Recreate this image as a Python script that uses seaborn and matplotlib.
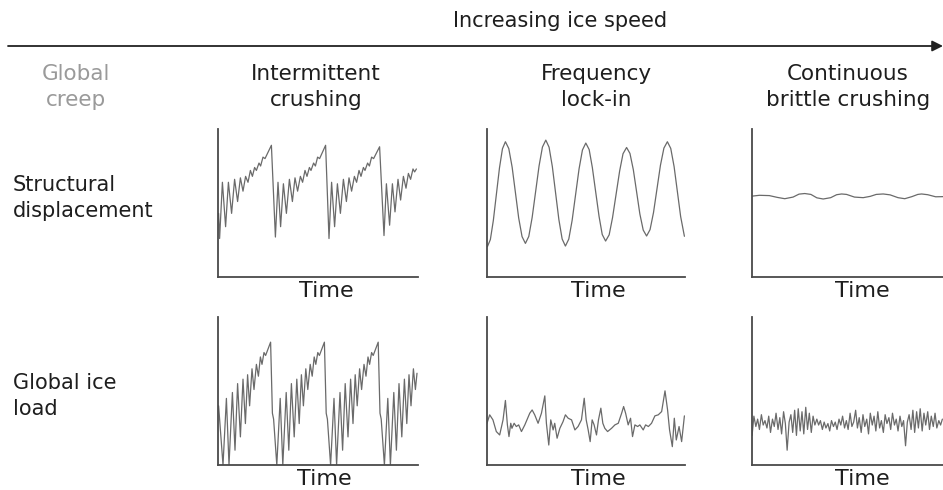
import numpy as np
import pandas as pd
import matplotlib
matplotlib.use("Agg")
import matplotlib.pyplot as plt
import seaborn as sns

sns.set_theme(style="white")
plt.rcParams['font.family'] = ['DejaVu Sans']

# ---------------- text ----------------
title = "Increasing ice speed"
regimes = ["Global\ncreep", "Intermittent\ncrushing", "Frequency\nlock-in", "Continuous\nbrittle crushing"]
rows = ["Structural\ndisplacement", "Global ice\nload"]
xlabel = "Time"

# ---------------- data (time 0-100, amplitude 0-100) ----------------
# Structural displacement - intermittent crushing
t_disp_ic = [0.3, 0.8, 2.2, 3.8, 5.2, 6.8, 8.3, 9.8, 11.2, 12.5, 13.8, 15.0, 16.2, 17.2, 18.3, 19.2, 20.5, 21.3, 22.5, 23.5, 26.7, 28.7,
             30.0, 31.3, 32.7, 34.2, 35.7, 37.2, 38.5, 39.8, 41.2, 42.3, 43.5, 44.5, 45.7, 46.5, 47.8, 48.7, 49.8, 50.8, 53.8, 55.5,
             56.8, 58.3, 59.7, 61.2, 62.7, 64.2, 65.5, 66.8, 68.2, 69.3, 70.5, 71.5, 72.7, 73.5, 74.8, 75.7, 76.8, 77.8, 80.8, 83.0,
             84.2, 85.8, 87.2, 88.5, 90.0, 91.3, 92.7, 94.0, 95.2, 96.3, 97.5, 98.3, 99.2]
v_disp_ic = [43, 26, 64, 34, 64, 43, 66, 51, 67, 58, 68, 64, 72, 68, 74, 72, 77, 75, 81, 80, 89, 27,
             64, 34, 63, 43, 66, 51, 67, 58, 68, 64, 72, 68, 74, 72, 77, 75, 81, 80, 89, 26,
             64, 34, 63, 43, 66, 51, 67, 58, 68, 64, 72, 68, 74, 72, 77, 75, 81, 80, 88, 28,
             63, 35, 63, 44, 66, 52, 68, 60, 70, 66, 73, 71, 73]

# Structural displacement - frequency lock-in
t_disp_fl = [0.2, 1.7, 3.2, 4.75, 6.3, 7.8, 9.3,
             11.0, 12.7, 14.35, 16.0, 17.7, 19.4,
             21.1, 22.8, 24.55, 26.3, 28.0, 29.7,
             31.35, 33.0, 34.65, 36.3, 37.95, 39.6,
             41.3, 43.0, 44.75, 46.5, 48.2, 49.9,
             51.6, 53.2, 54.9, 56.6, 58.2, 59.9,
             61.7, 63.4, 65.2, 67.0, 68.7, 70.5,
             72.2, 73.9, 75.55, 77.2, 78.9, 80.6,
             82.35, 84.1, 85.85, 87.6, 89.35, 91.1,
             92.8, 94.5, 96.15, 97.8, 99.7]
v_disp_fl = [20.5, 25.3, 38.2, 56.0, 73.7, 86.6, 91.4,
             86.8, 74.2, 57.1, 39.9, 27.3, 22.7,
             27.4, 40.2, 57.6, 75.1, 87.8, 92.5,
             87.7, 74.6, 56.7, 38.8, 25.7, 20.9,
             25.6, 38.3, 55.7, 73.1, 85.8, 90.5,
             86.1, 74.0, 57.4, 40.9, 28.7, 24.3,
             28.5, 40.1, 55.9, 71.7, 83.3, 87.5,
             83.5, 72.5, 57.6, 42.6, 31.7, 27.7,
             32.0, 43.6, 59.55, 75.5, 87.1, 91.4,
             86.9, 74.55, 57.7, 40.85, 27.5]

# Structural displacement - continuous brittle crushing
t_disp_cb = [0, 4, 9, 13, 16.8, 21, 24, 26.9, 30, 33, 36.2, 40, 43, 45.5, 48, 52, 56.4, 60, 63, 66.5,
             70, 74, 77.4, 81, 84, 85.9, 89, 93, 96.6, 100]
v_disp_cb = [54.6, 55.2, 55.0, 53.8, 52.9, 54.0, 56.0, 56.4, 55.8, 53.5, 52.7, 53.6, 55.6, 56.1, 55.8, 54.0, 53.6, 54.5, 55.8, 56.1,
             55.5, 53.6, 52.9, 54.3, 55.8, 56.1, 55.6, 54.2, 54.3, 54.8]

# Global ice load - intermittent crushing
t_load_ic = [0.3, 0.8, 2.5, 4.2, 5.5, 7.2, 8.5, 9.8, 11.2, 12.5, 13.7, 14.8, 15.8, 17.0, 18.0, 19.2, 20.2, 21.2, 22.0, 23.0, 23.8, 26.3, 27.2,
             27.8, 29.4, 31.1, 32.4, 34.1, 35.4, 36.7, 38.1, 39.4, 40.6, 41.7, 42.7, 43.9, 44.9, 46.1, 47.1, 48.1, 48.9, 49.9, 50.7, 53.2, 54.1,
             54.7, 56.3, 58.0, 59.3, 61.0, 62.3, 63.6, 65.0, 66.3, 67.5, 68.6, 69.6, 70.8, 71.8, 73.0, 74.0, 75.0, 75.8, 76.8, 77.6, 80.1, 81.0,
             81.6, 83.2, 84.9, 86.2, 87.9, 89.2, 90.5, 91.9, 93.2, 94.4, 95.5, 96.5, 97.7, 98.7, 99.5]
v_load_ic = [40, 31, 0, 45, 0, 49, 10, 55, 19, 58, 28, 61, 40, 65, 51, 68, 60, 73, 68, 76, 74, 83, 35,
             31, 0, 45, 0, 49, 10, 55, 19, 58, 28, 61, 40, 65, 51, 68, 60, 73, 68, 76, 74, 83, 35,
             31, 0, 45, 0, 49, 10, 55, 19, 58, 28, 61, 40, 65, 51, 68, 60, 73, 68, 76, 74, 83, 35,
             31, 0, 45, 0, 49, 10, 55, 19, 58, 28, 61, 40, 65, 51, 62]

# Global ice load - frequency lock-in
t_load_fl = [0, 1.35, 3.0, 4.7, 6.4, 8.1, 9.3, 10.3, 11.1, 12.0,
             12.6, 13.7, 14.8, 16.0, 17.4, 19.1, 21.6, 22.8, 24.1, 25.8,
             27.5, 29.2, 30.0, 31.2, 32.2, 33.4, 34.2, 35.4, 36.8, 38.4,
             39.6, 41.0, 42.7, 44.4, 46.0, 47.7, 49.1, 50.1, 51.1, 52.1,
             53.1, 54.1, 55.3, 56.3, 57.5, 58.5, 59.5, 60.9, 62.9, 64.6,
             66.3, 68.0, 69.0, 70.0, 71.3, 72.5, 73.5, 74.7, 76.1, 77.2,
             78.9, 80.1, 81.5, 83.1, 84.8, 86.5, 88.2, 89.9, 91.2, 92.2,
             93.6, 94.6, 95.6, 97.0, 98.3, 99.7]
v_load_fl = [28.2, 33.9, 30.5, 22.6, 20.3, 30.5, 43.6, 27.1, 19.2, 28.2,
             24.8, 28.2, 26.0, 27.1, 22.6, 27.1, 35.0, 37.2, 33.9, 28.2,
             35.0, 46.7, 28.2, 13.5, 30.5, 23.7, 28.2, 18.1, 24.8, 29.3,
             33.9, 31.6, 30.5, 23.7, 26.0, 30.5, 45.1, 30.5, 23.7, 15.8,
             30.5, 27.1, 20.3, 30.5, 38.4, 28.2, 24.8, 22.6, 24.8, 27.1,
             28.2, 35.0, 39.5, 35.0, 27.1, 31.6, 19.2, 27.1, 26.0, 27.1,
             23.7, 27.1, 26.0, 28.2, 33.2, 33.9, 36.1, 50.1, 37.2, 23.7,
             12.4, 31.6, 16.9, 26.0, 15.8, 33.2]

# Global ice load - continuous brittle crushing
t_load_cb = [0.3, 1.2, 2.2, 3.1, 4.0, 5.0, 5.9, 6.8, 7.8, 8.7,
             9.6, 10.6, 11.5, 12.4, 13.4, 14.3, 15.2, 16.2, 17.1, 18.0,
             19.0, 19.9, 20.8, 21.8, 22.7, 23.6, 24.6, 25.5, 26.4, 27.4,
             28.3, 29.2, 30.2, 31.1, 32.0, 33.0, 33.9, 34.8, 35.8, 36.7,
             37.6, 38.6, 39.5, 40.4, 41.4, 42.3, 43.2, 44.2, 45.1, 46.0,
             47.0, 47.9, 48.8, 49.8, 50.7, 51.6, 52.6, 53.5, 54.4, 55.4,
             56.3, 57.2, 58.2, 59.1, 60.0, 61.0, 61.9, 62.8, 63.8, 64.7,
             65.6, 66.6, 67.5, 68.4, 69.4, 70.3, 71.2, 72.2, 73.1, 74.0,
             75.0, 75.9, 76.8, 77.8, 78.7, 79.6, 80.6, 81.5, 82.4, 83.4,
             84.3, 85.2, 86.2, 87.1, 88.0, 89.0, 89.9, 90.8, 91.8, 92.7,
             93.6, 94.6, 95.5, 96.4]
v_load_cb = [20, 33, 26, 31, 24, 34, 27, 30, 25, 33, 22, 31,
             26, 35, 24, 32, 21, 36, 28, 10,
             29, 34, 22, 37, 20, 38, 23, 36, 21, 39, 24, 35, 22, 33, 27, 31,
             27, 30, 24, 29, 25, 28, 23, 30, 26, 29, 24, 31, 27, 33, 25, 30, 24, 35, 26,
             29, 37, 25, 32, 22, 34, 26, 31, 21, 35, 27, 33, 23, 36, 25, 30, 22, 34, 28, 32, 24, 35, 27, 31, 23, 33,
             26, 30, 13, 29, 34, 24, 37, 22, 36, 25, 38, 23, 35, 27, 36, 24, 33, 26, 35, 25, 30, 27,
             31]

panels = [
    [(t_disp_ic, v_disp_ic), (t_disp_fl, v_disp_fl), (t_disp_cb, v_disp_cb)],
    [(t_load_ic, v_load_ic), (t_load_fl, v_load_fl), (t_load_cb, v_load_cb)],
]

# ---------------- layout ----------------
W, H = 943, 490
fig = plt.figure(figsize=(W / 100, H / 100), dpi=100, facecolor="white")

def rect(left, top, width, bottom):
    return [left / W, 1 - bottom / H, width / W, (bottom - top) / H]

col_left = [218, 487, 751.5]
col_width = [200, 198, 198]
row_tb = [(129, 277), (317, 465)]
time_xfrac = [[0.54, 0.56, 0.56], [0.53, 0.56, 0.56]]

line_color = "#6a6a6a"
spine_color = "#4a4a4a"
text_color = "#1e1e1e"

for r in range(2):
    for c in range(3):
        top, bottom = row_tb[r]
        ax = fig.add_axes(rect(col_left[c], top, col_width[c], bottom))
        t, v = panels[r][c]
        df = pd.DataFrame({"t": t, "v": v})
        sns.lineplot(data=df, x="t", y="v", ax=ax, color=line_color, linewidth=0.9,
                     estimator=None, sort=False)
        ax.set_xlim(0, 100)
        ax.set_ylim(0, 100)
        ax.set_xticks([])
        ax.set_yticks([])
        ax.set_ylabel("")
        ax.set_facecolor("none")
        for s in ["top", "right"]:
            ax.spines[s].set_visible(False)
        for s in ["left", "bottom"]:
            ax.spines[s].set_color(spine_color)
            ax.spines[s].set_linewidth(1.3)
        ax.set_xlabel(xlabel, fontsize=16, color=text_color)
        ax.xaxis.set_label_coords(time_xfrac[r][c], -0.095)
        ax.xaxis.label.set_va("center")

# overlay for arrow and texts
ov = fig.add_axes([0, 0, 1, 1])
ov.set_xlim(0, 1)
ov.set_ylim(0, 1)
ov.axis("off")
ov.annotate("", xy=(1.0, 1 - 46 / H), xytext=(8 / W, 1 - 46 / H),
            xycoords="axes fraction", textcoords="axes fraction",
            arrowprops=dict(arrowstyle="-|>", color="#222222", lw=1.3, mutation_scale=16,
                            shrinkA=0, shrinkB=0))

fig.text(560 / W, 1 - 21 / H, title, ha="center", va="center", fontsize=15, color=text_color)

header_x = [76, 316, 596, 848]
header_colors = ["#9a9a9a", text_color, text_color, text_color]
for x, lab, col in zip(header_x, regimes, header_colors):
    fig.text(x / W, 1 - 87 / H, lab, ha="center", va="center", fontsize=15.5,
             color=col, linespacing=1.35, multialignment="center")

row_y = [198, 396]
for y, lab in zip(row_y, rows):
    fig.text(13 / W, 1 - y / H, lab, ha="left", va="center", fontsize=15,
             color=text_color, linespacing=1.4)

fig.savefig("out.png", dpi=100, facecolor="white")
